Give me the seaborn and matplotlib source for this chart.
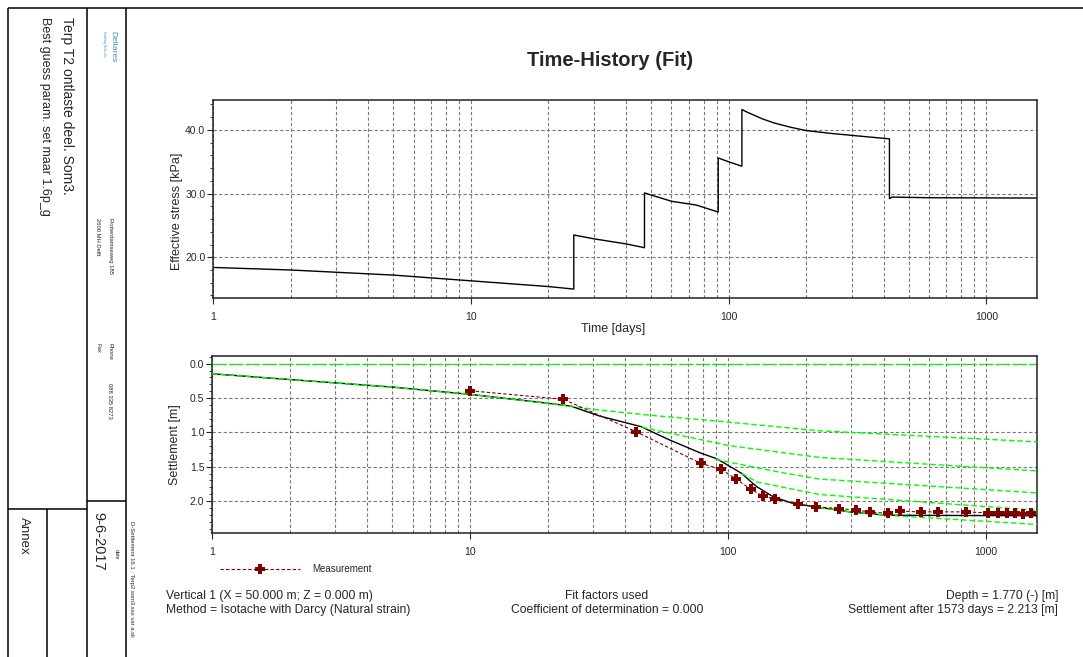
import matplotlib
matplotlib.use("Agg")
import matplotlib.pyplot as plt
import seaborn as sns
from matplotlib.ticker import FixedLocator, MultipleLocator, LogLocator, NullFormatter, FixedFormatter, FormatStrFormatter

# ---------------- data ----------------
stress_days = [1, 2, 5, 10, 20, 25.1, 25.1, 30, 40, 47.2, 47.2, 60, 75, 91.2, 91.2, 100, 112.7,
               112.7, 118, 125, 135, 150, 175, 200, 250, 300, 360, 421, 421, 430, 600, 1573]
stress_kpa = [18.4, 18.0, 17.2, 16.3, 15.4, 15.0, 23.5, 22.9, 22.1, 21.5, 30.1, 28.8, 28.2, 27.1, 35.6,
              35.0, 34.3, 43.2, 42.8, 42.35, 41.75, 41.1, 40.4, 39.9, 39.45, 39.15, 38.85, 38.6,
              29.2, 29.45, 29.35, 29.3]

fit_days = [1, 2, 5, 10, 20, 24.6, 31.8, 46.2, 49.8, 59.5, 77.8, 89.8, 94, 113, 121, 129, 150, 179,
            227, 300, 413, 1573]
fit_m = [0.146, 0.23, 0.34, 0.446, 0.575, 0.617, 0.762, 0.918, 0.977, 1.112, 1.297, 1.38, 1.42,
         1.598, 1.70, 1.79, 1.94, 2.035, 2.093, 2.16, 2.206, 2.213]

meas_days = [10.0, 23.0, 44.0, 78.5, 93.7, 107.7, 122.4, 136.3, 151.8, 185.8, 219.6, 270, 313, 356,
             417, 464, 560, 648, 838, 1018, 1114, 1201, 1297, 1394, 1490]
meas_m = [0.393, 0.518, 0.99, 1.452, 1.535, 1.68, 1.83, 1.924, 1.972, 2.045, 2.085, 2.108, 2.133,
          2.157, 2.18, 2.147, 2.157, 2.157, 2.157, 2.172, 2.172, 2.172, 2.18, 2.185, 2.18]

green0_days = [1, 1573]
green0_m = [0.0, 0.0]
greenA_days = [1, 2, 5, 10, 20, 24.6, 31.8, 50, 100, 227, 500, 1573]
greenA_m = [0.146, 0.23, 0.34, 0.446, 0.575, 0.617, 0.675, 0.75, 0.85, 0.977, 1.042, 1.137]
greenB_days = [46.2, 48.3, 59.5, 100, 227, 500, 1573]
greenB_m = [0.918, 0.94, 1.01, 1.19, 1.365, 1.445, 1.56]
greenC_days = [89.8, 94, 159, 227, 500, 1573]
greenC_m = [1.38, 1.41, 1.58, 1.68, 1.761, 1.88]
greenD_days = [113, 129, 159, 227, 500, 1573]
greenD_m = [1.598, 1.72, 1.79, 1.905, 1.998, 2.133]
greenE_days = [227, 300, 413, 1573]
greenE_m = [2.093, 2.16, 2.206, 2.34]

x_major = [1, 10, 100, 1000]
x_labels = ["1", "10", "100", "1000"]
stress_ticks = [20, 30, 40]
settle_ticks = [0.0, 0.5, 1.0, 1.5, 2.0]

# ---------------- style ----------------
sns.set_style("white")
plt.rcParams["font.family"] = ["Liberation Sans", "DejaVu Sans"]

W, H = 1083, 657
fig = plt.figure(figsize=(W / 100, H / 100), dpi=100)
fig.patch.set_facecolor("white")


def fr(x0, y0, x1, y1):
    return [x0 / W, 1 - y1 / H, (x1 - x0) / W, (y1 - y0) / H]


# overlay for frame / sidebar
ax0 = fig.add_axes([0, 0, 1, 1], zorder=0)
ax0.set_xlim(0, W)
ax0.set_ylim(H, 0)
ax0.axis("off")

lk = dict(color="black", lw=1.1, solid_capstyle="butt")
ax0.plot([7.5, W], [7.5, 7.5], **lk)
ax0.plot([7.5, 7.5], [7.5, H], **lk)
ax0.plot([87, 87], [7.5, H], **lk)
ax0.plot([125.5, 125.5], [7.5, H], **lk)
ax0.plot([7.5, 87], [509, 509], **lk)
ax0.plot([87, 125.5], [501, 501], **lk)
ax0.plot([47.3, 47.3], [509, H], **lk)

rt = dict(rotation=270, ha="center", va="top")
ax0.text(66.7, 17, "Terp T2 ontlaste deel. Som3.", fontsize=10, **rt)
ax0.text(45, 17, "Best guess param. set maar 1.6p_g", fontsize=9, **rt)
ax0.text(112.5, 31, "Deltares", fontsize=6, color="#3d8fc6", **rt)
ax0.text(104, 31, "Enabling Delta Life", fontsize=2.2, color="#3d8fc6", **rt)
ax0.text(110, 218, "Rotterdamseweg 185", fontsize=4.2, **rt)
ax0.text(98, 218, "2600 MH Delft", fontsize=4.2, **rt)
ax0.text(110, 343, "Phone", fontsize=4.2, **rt)
ax0.text(98, 343, "Fax", fontsize=4.2, **rt)
ax0.text(110, 383, "088 335 8273", fontsize=4.2, **rt)
ax0.text(116, 549, "date", fontsize=3.8, **rt)
ax0.text(98, 512, "9-6-2017", fontsize=10.5, **rt)
ax0.text(23.5, 517, "Annex", fontsize=9.5, **rt)
ax0.text(131.5, 521, "D-Settlement 16.1 : Terp2 som3.sss var a.sli", fontsize=4.2, **rt)

ax0.text(610, 61, "Time-History (Fit)", ha="center", va="center", fontsize=14.5, fontweight="bold")

ft = dict(va="center", fontsize=8.7)
ax0.text(166, 596, "Vertical 1 (X = 50.000 m; Z = 0.000 m)", ha="left", **ft)
ax0.text(166, 610, "Method = Isotache with Darcy (Natural strain)", ha="left", **ft)
ax0.text(607, 596, "Fit factors used", ha="center", **ft)
ax0.text(607, 610, "Coefficient of determination = 0.000", ha="center", **ft)
ax0.text(1058, 596, "Depth = 1.770 (-) [m]", ha="right", **ft)
ax0.text(1058, 610, "Settlement after 1573 days = 2.213 [m]", ha="right", **ft)

grid_kw = dict(color="#7a7a7a", linestyle=(0, (3, 2)), linewidth=0.8)


def style_axes(ax):
    ax.set_xscale("log")
    ax.set_xlim(1, 1573)
    ax.xaxis.set_major_locator(FixedLocator(x_major))
    ax.xaxis.set_major_formatter(FixedFormatter(x_labels))
    ax.xaxis.set_minor_locator(LogLocator(base=10, subs=range(2, 10)))
    ax.xaxis.set_minor_formatter(NullFormatter())
    ax.tick_params(axis="x", which="major", length=4, width=0.8, pad=6, labelsize=7.5, direction="out",
                   bottom=True)
    ax.tick_params(axis="x", which="minor", length=0)
    ax.tick_params(axis="y", which="major", length=4, width=0.8, pad=1.5, labelsize=7.5, direction="out",
                   left=True)
    ax.tick_params(axis="y", which="minor", length=2.5, width=0.6, direction="out", left=True)
    ax.grid(True, which="both", axis="x", **grid_kw)
    ax.grid(True, which="major", axis="y", **grid_kw)
    ax.set_axisbelow(True)
    for s in ax.spines.values():
        s.set_color("#222222")
        s.set_linewidth(1.1)
        s.set_visible(True)


# ---------------- top: effective stress ----------------
ax1 = fig.add_axes(fr(213, 100, 1037, 298), zorder=2)
ax1.set_xscale("log")
sns.lineplot(x=stress_days, y=stress_kpa, ax=ax1, color="black", lw=1.0, estimator=None, sort=False)
style_axes(ax1)
ax1.set_ylim(13.6, 44.7)
ax1.yaxis.set_major_locator(FixedLocator(stress_ticks))
ax1.yaxis.set_major_formatter(FormatStrFormatter("%.1f"))
ax1.yaxis.set_minor_locator(MultipleLocator(2))
ax1.set_ylabel("Effective stress [kPa]", fontsize=9)
ax1.yaxis.set_label_coords(-0.037, 0.436)
ax1.set_xlabel("Time [days]", fontsize=9)
ax1.xaxis.set_label_coords(0.485, -0.125)

# ---------------- bottom: settlement ----------------
ax2 = fig.add_axes(fr(212, 355.7, 1037, 532.7), zorder=2)
ax2.set_xscale("log")
sns.lineplot(x=fit_days, y=fit_m, ax=ax2, color="black", lw=1.0, estimator=None, sort=False, zorder=3)
for gd, gm in [(green0_days, green0_m), (greenA_days, greenA_m), (greenB_days, greenB_m),
               (greenC_days, greenC_m), (greenD_days, greenD_m), (greenE_days, greenE_m)]:
    sns.lineplot(x=gd, y=gm, ax=ax2, color="#00ff00", lw=1.0, linestyle=(0, (4, 2)),
                 estimator=None, sort=False, zorder=4)
sns.lineplot(x=meas_days, y=meas_m, ax=ax2, color="#800000", lw=0.8, linestyle=(0, (3, 2)),
             marker="P", markersize=7, markeredgewidth=0, markerfacecolor="#800000",
             estimator=None, sort=False, zorder=5, label="Measurement")
handles, labels = ax2.get_legend_handles_labels()
if ax2.get_legend() is not None:
    ax2.get_legend().remove()
style_axes(ax2)
ax2.set_ylim(2.46, -0.117)
ax2.yaxis.set_major_locator(FixedLocator(settle_ticks))
ax2.yaxis.set_major_formatter(FormatStrFormatter("%.1f"))
ax2.yaxis.set_minor_locator(MultipleLocator(0.1))
ax2.set_ylabel("Settlement [m]", fontsize=9)
ax2.yaxis.set_label_coords(-0.037, 0.5)
ax2.set_xlabel("")

fig.legend(handles[-1:], labels[-1:], loc="center left", bbox_to_anchor=(220 / W, 1 - 569 / H),
           frameon=False, fontsize=7, handlelength=8.2, handletextpad=1.3, borderpad=0,
           borderaxespad=0, numpoints=1)

fig.savefig("out.png", dpi=100, facecolor="white")
